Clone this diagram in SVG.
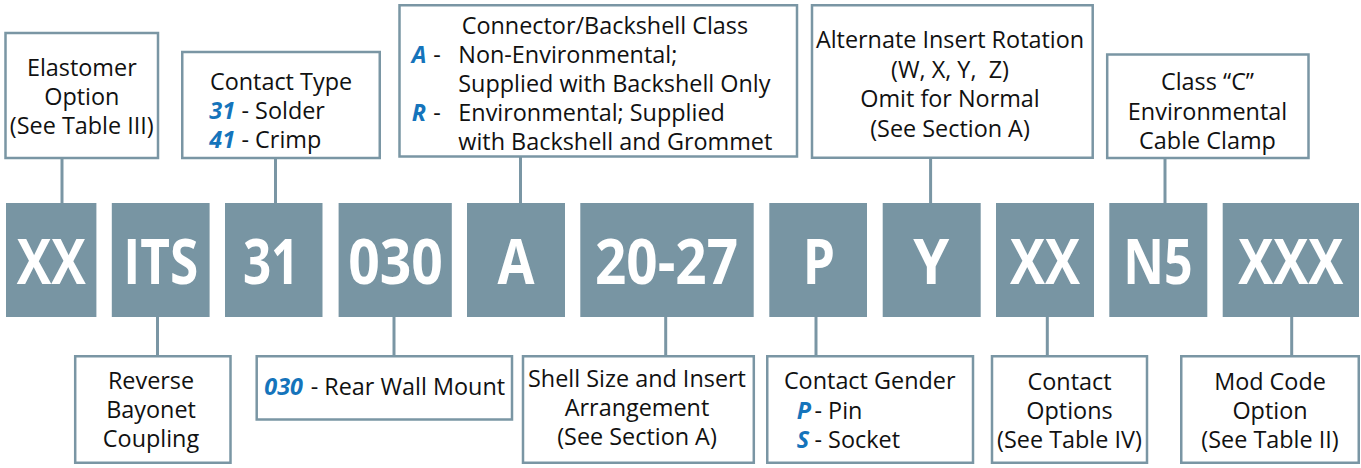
<svg xmlns="http://www.w3.org/2000/svg" width="1361" height="468" viewBox="0 0 1361 468">
<style>
.code{fill:#7895a3;}
.codetxt{font-family:"Open Sans","Liberation Sans",sans-serif;font-weight:700;font-size:62px;fill:#ffffff;}
.lbl{fill:#ffffff;stroke:#7a96a4;stroke-width:2.5;}
.t{font-family:"Open Sans","Liberation Sans",sans-serif;font-size:23.4px;fill:#111111;}
.c{text-anchor:middle;}
.b{fill:#1574bb;font-weight:700;font-style:italic;}
.conn{stroke:#7a96a4;stroke-width:3;fill:none;}
</style>
<rect width="1361" height="468" fill="#ffffff"/>
<g id="connectors">
<line class="conn" x1="62" y1="159" x2="62" y2="203"/>
<line class="conn" x1="275.5" y1="159" x2="275.5" y2="203"/>
<line class="conn" x1="520.5" y1="157" x2="520.5" y2="203"/>
<line class="conn" x1="930.6" y1="159" x2="930.6" y2="203"/>
<line class="conn" x1="1165" y1="159" x2="1165" y2="203"/>
<line class="conn" x1="157.5" y1="317" x2="157.5" y2="355"/>
<line class="conn" x1="394" y1="317" x2="394" y2="355"/>
<line class="conn" x1="665.7" y1="317" x2="665.7" y2="355"/>
<line class="conn" x1="816" y1="317" x2="816" y2="355"/>
<line class="conn" x1="1047.3" y1="317" x2="1047.3" y2="355"/>
<line class="conn" x1="1291.7" y1="317" x2="1291.7" y2="355"/>
</g>
<g id="code-xx1"><rect class="code" x="6" y="203" width="90.4" height="114"/><text class="codetxt" x="16.8" y="284" textLength="69" lengthAdjust="spacingAndGlyphs">XX</text></g>
<g id="code-its"><rect class="code" x="111.8" y="203" width="97.8" height="114"/><text class="codetxt" x="123.2" y="284" textLength="75" lengthAdjust="spacingAndGlyphs">ITS</text></g>
<g id="code-31"><rect class="code" x="225" y="203" width="97.5" height="114"/><text class="codetxt" x="242.9" y="284" textLength="56.4" lengthAdjust="spacingAndGlyphs">31</text></g>
<g id="code-030"><rect class="code" x="338.6" y="203" width="113.2" height="114"/><text class="codetxt" x="348.2" y="284" textLength="94.7" lengthAdjust="spacingAndGlyphs">030</text></g>
<g id="code-a"><rect class="code" x="467" y="203" width="98" height="114"/><text class="codetxt" x="497.5" y="284" textLength="37" lengthAdjust="spacingAndGlyphs">A</text></g>
<g id="code-2027"><rect class="code" x="580.3" y="203" width="173.4" height="114"/><text class="codetxt" x="595" y="284" textLength="143" lengthAdjust="spacingAndGlyphs">20-27</text></g>
<g id="code-p"><rect class="code" x="769.3" y="203" width="97.7" height="114"/><text class="codetxt" x="802.7" y="284" textLength="32.3" lengthAdjust="spacingAndGlyphs">P</text></g>
<g id="code-y"><rect class="code" x="882.7" y="203" width="98" height="114"/><text class="codetxt" x="913.3" y="284" textLength="36" lengthAdjust="spacingAndGlyphs">Y</text></g>
<g id="code-xx2"><rect class="code" x="996" y="203" width="98" height="114"/><text class="codetxt" x="1010" y="284" textLength="70" lengthAdjust="spacingAndGlyphs">XX</text></g>
<g id="code-n5"><rect class="code" x="1109.3" y="203" width="98" height="114"/><text class="codetxt" x="1123.3" y="284" textLength="69.4" lengthAdjust="spacingAndGlyphs">N5</text></g>
<g id="code-xxx"><rect class="code" x="1222.7" y="203" width="136.3" height="114"/><text class="codetxt" x="1238.3" y="284" textLength="105" lengthAdjust="spacingAndGlyphs">XXX</text></g>

<g id="lbl-elastomer"><rect class="lbl" x="5.5" y="33" width="152.5" height="125"/>
<text class="t c" x="81.8" y="76">Elastomer</text>
<text class="t c" x="81.8" y="105">Option</text>
<text class="t c" x="81.8" y="134">(See Table III)</text></g>

<g id="lbl-contact-type"><rect class="lbl" x="182.25" y="52" width="197.5" height="106"/>
<text class="t c" x="281" y="90">Contact Type</text>
<text class="t" y="119"><tspan class="b" x="209.3">31</tspan><tspan x="241.5">- Solder</tspan></text>
<text class="t" y="148"><tspan class="b" x="209.3">41</tspan><tspan x="241.5">- Crimp</tspan></text></g>

<g id="lbl-class"><rect class="lbl" x="399.5" y="5.25" width="397.5" height="151.25"/>
<text class="t" x="461.7" y="34">Connector/Backshell Class</text>
<text class="t" y="63"><tspan class="b" x="411.7">A</tspan><tspan x="433.3">-</tspan><tspan x="458.3">Non-Environmental;</tspan></text>
<text class="t" x="458.3" y="92">Supplied with Backshell Only</text>
<text class="t" y="121"><tspan class="b" x="411.7">R</tspan><tspan x="433.3">-</tspan><tspan x="458.3">Environmental; Supplied</tspan></text>
<text class="t" x="458.3" y="150">with Backshell and Grommet</text></g>

<g id="lbl-rotation"><rect class="lbl" x="812" y="5.25" width="280.7" height="152.5"/>
<text class="t c" x="950" y="48.3">Alternate Insert Rotation</text>
<text class="t c" x="950" y="78" xml:space="preserve">(W, X, Y,  Z)</text>
<text class="t c" x="950" y="107">Omit for Normal</text>
<text class="t c" x="950" y="136.5">(See Section A)</text></g>

<g id="lbl-clamp"><rect class="lbl" x="1107.2" y="54.5" width="201.3" height="103.5"/>
<text class="t c" x="1207.5" y="90">Class “C”</text>
<text class="t c" x="1207.5" y="120">Environmental</text>
<text class="t c" x="1207.5" y="149">Cable Clamp</text></g>

<g id="lbl-bayonet"><rect class="lbl" x="75.2" y="356.25" width="155.3" height="106.5"/>
<text class="t c" x="151" y="389">Reverse</text>
<text class="t c" x="151" y="418.3">Bayonet</text>
<text class="t c" x="151" y="447.3">Coupling</text></g>

<g id="lbl-mount"><rect class="lbl" x="256.7" y="356.25" width="255.3" height="63.25"/>
<text class="t" y="395"><tspan class="b" x="264.3">030</tspan><tspan x="310.7">- Rear Wall Mount</tspan></text></g>

<g id="lbl-shell"><rect class="lbl" x="523" y="356.25" width="230.8" height="106.5"/>
<text class="t c" x="637" y="386.7">Shell Size and Insert</text>
<text class="t c" x="637" y="415.7">Arrangement</text>
<text class="t c" x="637" y="444.7">(See Section A)</text></g>

<g id="lbl-gender"><rect class="lbl" x="767.25" y="356.25" width="205.75" height="106.5"/>
<text class="t c" x="869.7" y="389">Contact Gender</text>
<text class="t" y="419"><tspan class="b" x="796.7">P</tspan><tspan x="814.5">- Pin</tspan></text>
<text class="t" y="448"><tspan class="b" x="796.7">S</tspan><tspan x="814.5">- Socket</tspan></text></g>

<g id="lbl-contact-options"><rect class="lbl" x="992" y="356.25" width="155" height="106.5"/>
<text class="t c" x="1069.5" y="390">Contact</text>
<text class="t c" x="1069.5" y="419.3">Options</text>
<text class="t c" x="1069.5" y="448.3">(See Table IV)</text></g>

<g id="lbl-mod"><rect class="lbl" x="1181.25" y="356.25" width="177.5" height="106.5"/>
<text class="t c" x="1270" y="390">Mod Code</text>
<text class="t c" x="1270" y="419.3">Option</text>
<text class="t c" x="1270" y="448.3">(See Table II)</text></g>
</svg>
